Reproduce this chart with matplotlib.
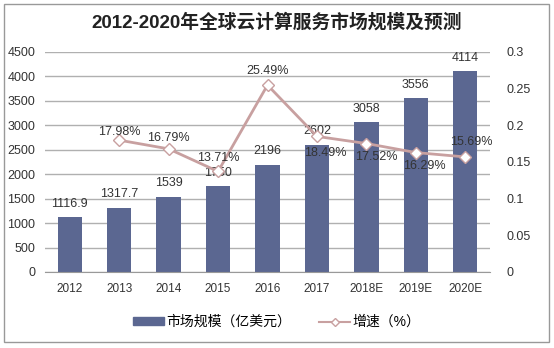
import matplotlib.pyplot as plt
from matplotlib.patches import Rectangle
from matplotlib.lines import Line2D

plt.rcParams["font.family"] = ["Liberation Sans", "Noto Sans CJK SC", "DejaVu Sans"]

years = ["2012", "2013", "2014", "2015", "2016", "2017", "2018E", "2019E", "2020E"]
market = [1116.9, 1317.7, 1539, 1750, 2196, 2602, 3058, 3556, 4114]
growth_years = years[1:]
growth = [0.1798, 0.1679, 0.1371, 0.2549, 0.1849, 0.1752, 0.1629, 0.1569]
growth_labels = ["17.98%", "16.79%", "13.71%", "25.49%", "18.49%", "17.52%", "16.29%", "15.69%"]

bar_color = "#5b6791"
line_color = "#c8a0a0"

fig = plt.figure(figsize=(5.54, 3.48), dpi=100)
ax = fig.add_axes([45 / 554, 1 - 272 / 348, 445 / 554, 220 / 348])
ax2 = ax.twinx()

x = list(range(len(years)))
ax.bar(x, market, width=0.49, color=bar_color, zorder=2)
for xi, v in zip(x, market):
    ax.text(xi, v + 150, f"{v:g}", ha="center", va="bottom", fontsize=9, color="#333333")

ax.set_xlim(-0.5, len(years) - 0.5)
ax.set_ylim(0, 4500)
ax.set_yticks(range(0, 4501, 500))
ax.set_xticks(x)
ax.set_xticklabels(years, fontsize=8.5, color="#333333")
ax.tick_params(axis="y", labelsize=9, labelcolor="#333333", length=0, pad=7)
ax.tick_params(axis="x", length=0, pad=8)
ax.grid(axis="y", color="#b0b0b0", linewidth=1)
ax.set_axisbelow(True)
for s in ["top", "left", "right"]:
    ax.spines[s].set_visible(False)
ax.spines["bottom"].set_color("#999999")

gx = x[1:]
ax2.plot(gx, growth, color=line_color, linewidth=2, marker="D", markersize=6,
         markerfacecolor="white", markeredgecolor=line_color, zorder=3)
ax2.set_ylim(0, 0.3)
ax2.set_yticks([0, 0.05, 0.1, 0.15, 0.2, 0.25, 0.3])
ax2.set_yticklabels(["0", "0.05", "0.1", "0.15", "0.2", "0.25", "0.3"])
ax2.tick_params(axis="y", labelsize=9, labelcolor="#333333", length=0, pad=12)
for s in ["top", "left", "right", "bottom"]:
    ax2.spines[s].set_visible(False)

offsets = [(0, 6), (0, 8), (0, 10), (0, 10), (6, -12), (7, -10), (6, -10), (4, 11)]
for xi, v, lab, (dx, dy) in zip(gx, growth, growth_labels, offsets):
    ax2.annotate(lab, (xi, v), xytext=(dx, dy), textcoords="offset points",
                 ha="center", va="center", fontsize=9, color="#333333")

title = "2012-2020年全球云计算服务市场规模及预测"
fig.text(0.5, 1 - 22 / 348, title, ha="center", va="center", fontsize=13.5,
         fontweight="bold", color="#222222")

handles = [Rectangle((0, 0), 1, 1, color=bar_color),
           Line2D([], [], color=line_color, linewidth=1.5, marker="D", markersize=4,
                  markerfacecolor="white", markeredgecolor=line_color)]
fig.legend(handles, ["市场规模（亿美元）", "增速（%）"], loc="center",
           bbox_to_anchor=(0.5, 1 - 322 / 348), ncol=2, frameon=False,
           fontsize=10, handlelength=2.2, handleheight=0.5, handletextpad=0.2,
           columnspacing=2.0)

fig.patches.append(Rectangle((4 / 554, 1 - 342 / 348), 545 / 554, 338 / 348,
                             transform=fig.transFigure, fill=False,
                             edgecolor="#999999", linewidth=1))

fig.savefig("out.png", dpi=100)
